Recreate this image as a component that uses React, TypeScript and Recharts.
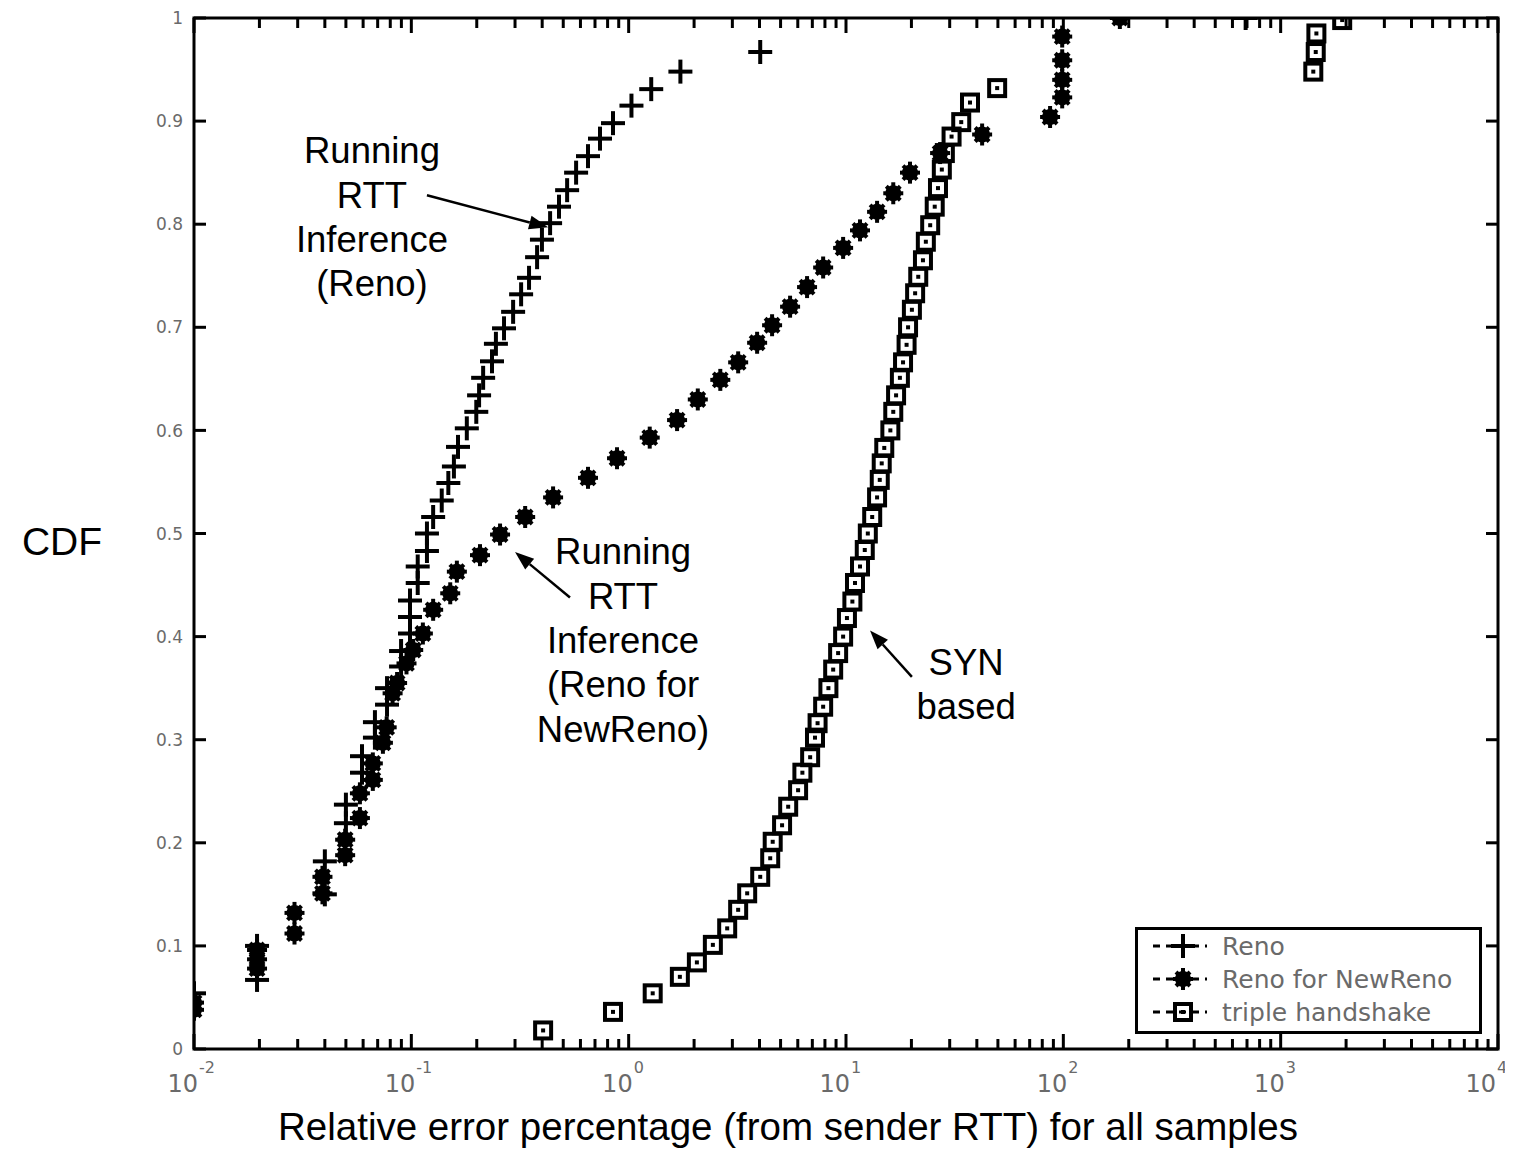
import * as React from 'react';
import {
  ScatterChart, Scatter, XAxis, YAxis, ReferenceArea, ReferenceLine, ReferenceDot, Legend, Label,
} from 'recharts';

// Running RTT inference (Reno)  "+"
const renoErr = [
  0.01, 0.0195, 0.0195, 0.04, 0.04, 0.05, 0.05, 0.0593, 0.0593, 0.068, 0.068, 0.0773, 0.0773,
  0.0897, 0.0897, 0.0986, 0.0986, 0.0986, 0.107, 0.107, 0.118, 0.118, 0.126, 0.138, 0.148, 0.157,
  0.164, 0.18, 0.199, 0.205, 0.214, 0.235, 0.245, 0.267, 0.294, 0.32, 0.348, 0.379, 0.399, 0.435,
  0.478, 0.521, 0.573, 0.65, 0.738, 0.847, 1.03, 1.27, 1.73, 4.03, 690,
];
const renoCdf = [
  0.054, 0.067, 0.1, 0.15, 0.182, 0.219, 0.237, 0.268, 0.284, 0.302, 0.317, 0.334, 0.35,
  0.371, 0.386, 0.403, 0.419, 0.435, 0.452, 0.468, 0.483, 0.5, 0.516, 0.532, 0.549, 0.565,
  0.584, 0.602, 0.618, 0.634, 0.651, 0.667, 0.684, 0.699, 0.715, 0.732, 0.748, 0.768, 0.785, 0.801,
  0.817, 0.833, 0.85, 0.866, 0.883, 0.898, 0.915, 0.931, 0.948, 0.967, 1.0,
];

// Running RTT inference (Reno for NewReno)  filled star
const newRenoErr = [
  0.01, 0.01, 0.0195, 0.0195, 0.0195, 0.029, 0.029, 0.039, 0.039, 0.0496, 0.0496, 0.058, 0.058,
  0.0665, 0.0665, 0.074, 0.077, 0.082, 0.086, 0.095, 0.102, 0.113, 0.126, 0.151, 0.162, 0.207,
  0.256, 0.334, 0.449, 0.65, 0.884, 1.25, 1.67, 2.08, 2.64, 3.19, 3.9, 4.57, 5.53, 6.62, 7.85,
  9.7, 11.6, 13.9, 16.5, 19.7, 27.1, 42.3, 86.9, 98.8, 98.8, 98.8, 98.8, 182,
];
const newRenoCdf = [
  0.038, 0.045, 0.078, 0.087, 0.096, 0.112, 0.132, 0.151, 0.167, 0.188, 0.203, 0.224, 0.248,
  0.261, 0.277, 0.297, 0.312, 0.345, 0.355, 0.374, 0.387, 0.403, 0.426, 0.442, 0.463, 0.479,
  0.499, 0.516, 0.535, 0.554, 0.573, 0.593, 0.61, 0.63, 0.649, 0.666, 0.685, 0.702, 0.72, 0.739, 0.758,
  0.777, 0.794, 0.812, 0.83, 0.85, 0.869, 0.887, 0.904, 0.923, 0.94, 0.959, 0.982, 1.0,
];

// SYN based (triple handshake)  square
const synErr = [
  0.404, 0.847, 1.29, 1.72, 2.06, 2.44, 2.84, 3.19, 3.51, 4.03, 4.48, 4.6, 5.08, 5.42, 6.02, 6.3,
  6.84, 7.2, 7.4, 7.85, 8.3, 8.73, 9.2, 9.7, 10.1, 10.7, 11.0, 11.6, 12.2, 12.6, 13.2, 13.9, 14.3,
  14.6, 15.0, 16.0, 16.5, 17.0, 17.7, 18.3, 19.0, 19.3, 20.1, 20.8, 21.5, 22.6, 23.3, 24.4, 25.6,
  26.5, 27.6, 28.5, 30.6, 33.9, 37.2, 49.6, 1413, 1450, 1460, 1919,
];
const synCdf = [
  0.018, 0.036, 0.054, 0.07, 0.084, 0.101, 0.117, 0.135, 0.151, 0.167, 0.185, 0.201, 0.217, 0.235, 0.251, 0.268,
  0.283, 0.302, 0.316, 0.332, 0.35, 0.368, 0.384, 0.4, 0.418, 0.434, 0.452, 0.468, 0.484, 0.5, 0.516, 0.535, 0.552,
  0.568, 0.583, 0.6, 0.618, 0.634, 0.651, 0.666, 0.683, 0.7, 0.717, 0.733, 0.749, 0.765, 0.783, 0.799, 0.817,
  0.835, 0.853, 0.869, 0.885, 0.899, 0.918, 0.932, 0.948, 0.967, 0.985, 0.998,
];

const seriesNames = ['Reno', 'Reno for NewReno', 'triple handshake'];

const decades = [0.01, 0.1, 1, 10, 100, 1000, 10000];
const decadeExp = ['-2', '-1', '0', '1', '2', '3', '4'];
const minorSteps = [2, 3, 4, 5, 6, 7, 8, 9];
const yTicks = [0, 0.1, 0.2, 0.3, 0.4, 0.5, 0.6, 0.7, 0.8, 0.9, 1];
const yTickLabels = ['0', '0.1', '0.2', '0.3', '0.4', '0.5', '0.6', '0.7', '0.8', '0.9', '1'];

const xTicks = decades.flatMap((d, i) =>
  i < decades.length - 1 ? [d, ...minorSteps.map((m) => d * m)] : [d]
);

const W = 1505;
const H = 1144;
const MARGIN = { top: 10, right: 15, bottom: 63, left: 126 };
const Y_AXIS_W = 60;
const X_AXIS_H = 40;
const PLOT_TOP = MARGIN.top;
const PLOT_RIGHT = W - MARGIN.right;

const TICK_FONT = '"DejaVu Sans", sans-serif';
const TEXT_FONT = '"Liberation Sans", Arial, sans-serif';
const TICK_GREY = '#6a6a6a';

const zip = (xs: number[], ys: number[]) => xs.map((x, i) => ({ x, y: ys[i] }));
const renoData = zip(renoErr, renoCdf);
const newRenoData = zip(newRenoErr, newRenoCdf);
const synData = zip(synErr, synCdf);

const annotations = [
  { x: 0.0659, y: 0.859, lines: ['Running', 'RTT', 'Inference', '(Reno)'] },
  { x: 0.942, y: 0.47, lines: ['Running', 'RTT', 'Inference', '(Reno for', 'NewReno)'] },
  { x: 35.7, y: 0.363, lines: ['SYN', 'based'] },
];
const arrows = [
  { from: { x: 0.118, y: 0.828 }, to: { x: 0.426, y: 0.797 } },
  { from: { x: 0.537, y: 0.438 }, to: { x: 0.3, y: 0.482 } },
  { from: { x: 20.1, y: 0.361 }, to: { x: 12.9, y: 0.406 } },
];

const PlusShape = ({ cx, cy }: any) => (
  <g stroke="#000" strokeWidth={4}>
    <line x1={cx - 12} x2={cx + 12} y1={cy} y2={cy} />
    <line x1={cx} x2={cx} y1={cy - 12} y2={cy + 12} />
  </g>
);

const StarShape = ({ cx, cy }: any) => (
  <g stroke="#000" strokeWidth={4} fill="#000">
    <circle cx={cx} cy={cy} r={6} />
    <line x1={cx} x2={cx} y1={cy - 11} y2={cy + 11} />
    <line x1={cx - 10} x2={cx + 10} y1={cy} y2={cy} />
    <line x1={cx - 7} x2={cx + 7} y1={cy - 7} y2={cy + 7} />
    <line x1={cx - 7} x2={cx + 7} y1={cy + 7} y2={cy - 7} />
  </g>
);

const SquareShape = ({ cx, cy }: any) => (
  <g>
    <rect x={cx - 8} y={cy - 8} width={16} height={16} fill="none" stroke="#000" strokeWidth={4} />
    <rect x={cx - 2} y={cy - 2} width={4} height={4} fill="#000" />
  </g>
);

const shapes = [PlusShape, StarShape, SquareShape];

const XTick = (props: any) => {
  const { x, y, payload } = props;
  const v = payload.value;
  const di = decades.findIndex((d) => Math.abs(d - v) / d < 1e-6);
  const len = di >= 0 ? 15 : 10;
  // the last label sits at the right page edge, pull it in a little
  const shift = di === decades.length - 1 ? -6 : 0;
  return (
    <g>
      <line x1={x} x2={x} y1={y} y2={y - len} stroke="#000" strokeWidth={3} />
      <line x1={x} x2={x} y1={PLOT_TOP} y2={PLOT_TOP + len} stroke="#000" strokeWidth={3} />
      {di >= 0 && (
        <g fontFamily={TICK_FONT} fill={TICK_GREY}>
          <text x={x + 4 + shift} y={y + 43} textAnchor="end" fontSize={24}>10</text>
          <text x={x + 5 + shift} y={y + 24} fontSize={16}>{decadeExp[di]}</text>
        </g>
      )}
    </g>
  );
};

const YTick = (props: any) => {
  const { x, y, payload } = props;
  const i = yTicks.indexOf(payload.value);
  return (
    <g>
      <line x1={x} x2={x + 12} y1={y} y2={y} stroke="#000" strokeWidth={3} />
      <line x1={PLOT_RIGHT} x2={PLOT_RIGHT - 12} y1={y} y2={y} stroke="#000" strokeWidth={3} />
      <text x={x - 11} y={y} dy="0.36em" textAnchor="end" fontSize={17} fontFamily={TICK_FONT} fill={TICK_GREY}>
        {yTickLabels[i]}
      </text>
    </g>
  );
};

const ArrowShape = (p: any) => {
  const x1 = Number(p.x1), y1 = Number(p.y1), x2 = Number(p.x2), y2 = Number(p.y2);
  const ang = Math.atan2(y2 - y1, x2 - x1);
  const L = 19;
  const hw = 7;
  const bx = x2 - L * Math.cos(ang);
  const by = y2 - L * Math.sin(ang);
  const px = -Math.sin(ang) * hw;
  const py = Math.cos(ang) * hw;
  return (
    <g>
      <line x1={x1} y1={y1} x2={bx} y2={by} stroke="#000" strokeWidth={2.5} />
      <polygon points={`${x2},${y2} ${bx + px},${by + py} ${bx - px},${by - py}`} fill="#000" />
    </g>
  );
};

const makeNote = (lines: string[]) => (p: any) => (
  <text x={p.cx} y={p.cy} textAnchor="middle" fontSize={36.5} fontFamily={TEXT_FONT} fill="#000">
    {lines.map((l, i) => (
      <tspan key={i} x={p.cx} dy={i === 0 ? 0 : 44.3}>{l}</tspan>
    ))}
  </text>
);

const XTitle = (props: any) => {
  const vb = props.viewBox;
  return (
    <text x={vb.x + vb.width / 2 - 58} y={vb.y + 91} textAnchor="middle" fontSize={38.5} fontFamily={TEXT_FONT} fill="#000">
      Relative error percentage (from sender RTT) for all samples
    </text>
  );
};

const YTitle = (props: any) => {
  const vb = props.viewBox;
  return (
    <text x={vb.x - 72} y={vb.y + vb.height / 2 + 21} textAnchor="middle" fontSize={39} fontFamily={TEXT_FONT} fill="#000">
      CDF
    </text>
  );
};

const LegendBox = () => (
  <svg width={349} height={109}>
    <rect x={1.5} y={1.5} width={344} height={104} fill="#fff" stroke="#000" strokeWidth={3} />
    {seriesNames.map((name, i) => {
      const cy = 19 + i * 33;
      const Shape = shapes[i];
      return (
        <g key={name}>
          <line x1={18} x2={72} y1={cy} y2={cy} stroke="#000" strokeWidth={3} strokeDasharray="7 6" />
          <Shape cx={48} cy={cy} />
          <text x={87} y={cy} dy="0.36em" fontSize={25} fontFamily={TICK_FONT} fill={TICK_GREY}>{name}</text>
        </g>
      );
    })}
  </svg>
);

export default function App() {
  return (
    <ScatterChart width={W} height={H} margin={MARGIN}>
      <XAxis
        type="number"
        dataKey="x"
        scale="log"
        domain={[0.01, 10000]}
        allowDataOverflow
        ticks={xTicks}
        interval={0}
        tickSize={0}
        tickMargin={0}
        axisLine={false}
        tickLine={false}
        tick={XTick}
        height={X_AXIS_H}
      >
        <Label content={XTitle} />
      </XAxis>
      <YAxis
        type="number"
        dataKey="y"
        domain={[0, 1]}
        allowDataOverflow
        ticks={yTicks}
        interval={0}
        tickSize={0}
        tickMargin={0}
        axisLine={false}
        tickLine={false}
        tick={YTick}
        width={Y_AXIS_W}
      >
        <Label content={YTitle} />
      </YAxis>
      <ReferenceArea x1={0.01} x2={10000} y1={0} y2={1} fill="none" stroke="#000" strokeWidth={3} ifOverflow="visible" />
      <Scatter name={seriesNames[0]} data={renoData} shape={PlusShape} isAnimationActive={false} />
      <Scatter name={seriesNames[1]} data={newRenoData} shape={StarShape} isAnimationActive={false} />
      <Scatter name={seriesNames[2]} data={synData} shape={SquareShape} isAnimationActive={false} />
      {arrows.map((a, i) => (
        <ReferenceLine key={`arrow-${i}`} segment={[a.from, a.to]} shape={ArrowShape} ifOverflow="visible" />
      ))}
      {annotations.map((n, i) => (
        <ReferenceDot key={`note-${i}`} x={n.x} y={n.y} r={0} shape={makeNote(n.lines)} ifOverflow="visible" />
      ))}
      <Legend
        content={LegendBox}
        layout="vertical"
        align="center"
        verticalAlign="middle"
        wrapperStyle={{ left: 1127, top: 919, width: 349, height: 109 }}
      />
    </ScatterChart>
  );
}
